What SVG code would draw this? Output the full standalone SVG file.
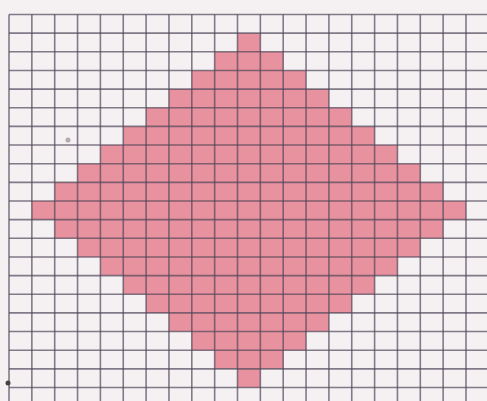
<svg xmlns="http://www.w3.org/2000/svg" width="487" height="401" viewBox="0 0 487 401">
  <style>
    .grid line { stroke: #50475a; stroke-opacity: 0.7; stroke-width: 1.6; }
    .shape { fill: #e8929f; }
  </style>
  <rect width="487" height="401" fill="#f5f1f3"/>
  <g id="diamond">
    <path class="shape" d="M237.5,33.15 V51.8 H214.65 V70.45 H191.8 V89.1 H168.95 V107.75 H146.1 V126.4 H123.25 V145.05 H100.4 V163.7 H77.55 V182.35 H54.7 V201 H31.85 V219.65 H54.7 V238.3 H77.55 V256.95 H100.4 V275.6 H123.25 V294.25 H146.1 V312.9 H168.95 V331.55 H191.8 V350.2 H214.65 V368.85 H237.5 V387.5 H260.35 V368.85 H283.2 V350.2 H306.05 V331.55 H328.9 V312.9 H351.75 V294.25 H374.6 V275.6 H397.45 V256.95 H420.3 V238.3 H443.15 V219.65 H466 V201 H443.15 V182.35 H420.3 V163.7 H397.45 V145.05 H374.6 V126.4 H351.75 V107.75 H328.9 V89.1 H306.05 V70.45 H283.2 V51.8 H260.35 V33.15 Z"/>
  </g>
  <g id="grid" class="grid">
    <line x1="9" y1="14.5" x2="9" y2="401"/>
    <line x1="31.85" y1="14.5" x2="31.85" y2="401"/>
    <line x1="54.7" y1="14.5" x2="54.7" y2="401"/>
    <line x1="77.55" y1="14.5" x2="77.55" y2="401"/>
    <line x1="100.4" y1="14.5" x2="100.4" y2="401"/>
    <line x1="123.25" y1="14.5" x2="123.25" y2="401"/>
    <line x1="146.1" y1="14.5" x2="146.1" y2="401"/>
    <line x1="168.95" y1="14.5" x2="168.95" y2="401"/>
    <line x1="191.8" y1="14.5" x2="191.8" y2="401"/>
    <line x1="214.65" y1="14.5" x2="214.65" y2="401"/>
    <line x1="237.5" y1="14.5" x2="237.5" y2="401"/>
    <line x1="260.35" y1="14.5" x2="260.35" y2="401"/>
    <line x1="283.2" y1="14.5" x2="283.2" y2="401"/>
    <line x1="306.05" y1="14.5" x2="306.05" y2="401"/>
    <line x1="328.9" y1="14.5" x2="328.9" y2="401"/>
    <line x1="351.75" y1="14.5" x2="351.75" y2="401"/>
    <line x1="374.6" y1="14.5" x2="374.6" y2="401"/>
    <line x1="397.45" y1="14.5" x2="397.45" y2="401"/>
    <line x1="420.3" y1="14.5" x2="420.3" y2="401"/>
    <line x1="443.15" y1="14.5" x2="443.15" y2="401"/>
    <line x1="466" y1="14.5" x2="466" y2="401"/>
    <line x1="9" y1="14.5" x2="487" y2="14.5"/>
    <line x1="9" y1="33.15" x2="487" y2="33.15"/>
    <line x1="9" y1="51.8" x2="487" y2="51.8"/>
    <line x1="9" y1="70.45" x2="487" y2="70.45"/>
    <line x1="9" y1="89.1" x2="487" y2="89.1"/>
    <line x1="9" y1="107.75" x2="487" y2="107.75"/>
    <line x1="9" y1="126.4" x2="487" y2="126.4"/>
    <line x1="9" y1="145.05" x2="487" y2="145.05"/>
    <line x1="9" y1="163.7" x2="487" y2="163.7"/>
    <line x1="9" y1="182.35" x2="487" y2="182.35"/>
    <line x1="9" y1="201" x2="487" y2="201"/>
    <line x1="9" y1="219.65" x2="487" y2="219.65"/>
    <line x1="9" y1="238.3" x2="487" y2="238.3"/>
    <line x1="9" y1="256.95" x2="487" y2="256.95"/>
    <line x1="9" y1="275.6" x2="487" y2="275.6"/>
    <line x1="9" y1="294.25" x2="487" y2="294.25"/>
    <line x1="9" y1="312.9" x2="487" y2="312.9"/>
    <line x1="9" y1="331.55" x2="487" y2="331.55"/>
    <line x1="9" y1="350.2" x2="487" y2="350.2"/>
    <line x1="9" y1="368.85" x2="487" y2="368.85"/>
    <line x1="9" y1="387.5" x2="487" y2="387.5"/>
  </g>
  <circle cx="68" cy="140" r="2.5" fill="#8a7c86" fill-opacity="0.6"/>
  <circle cx="8" cy="383" r="2.5" fill="#444"/>
</svg>
